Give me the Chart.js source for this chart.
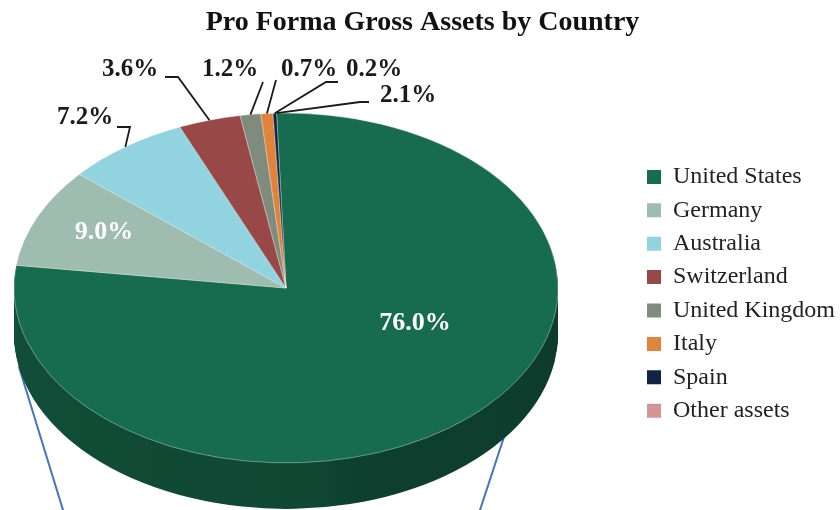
<!DOCTYPE html>
<html>
<head>
<meta charset="utf-8">
<script src="https://cdn.jsdelivr.net/npm/chart.js@4.4.1/dist/chart.umd.min.js"></script>
<style>
  html, body { margin: 0; padding: 0; background: #fff; }
  #wrap { width: 840px; height: 510px; }
</style>
</head>
<body>
<div id="wrap"><canvas id="assetsChart" width="840" height="510"></canvas></div>
<script>
// Pro Forma Gross Assets by Country

const countries = ['United States', 'Germany', 'Australia', 'Switzerland', 'United Kingdom', 'Italy', 'Spain', 'Other assets'];
const shares = [76.0, 9.0, 7.2, 3.6, 1.2, 0.7, 0.2, 2.1];
const sliceColors = ['#176b4e', '#9fbcb0', '#91d3df', '#984847', '#7f8b7c', '#e0843b', '#0f2442', '#d49494'];
// "Other assets" is split out of the main pie (it goes to the breakdown below the frame)
const splitOut = [7];

// picture layout
const PIE_CX = 286, PIE_CY = 288, PIE_R = 272, TILT = 0.643, DEPTH = 46;
const SERIF = "'Liberation Serif', 'Times New Roman', serif";

// where the percentage labels sit, and the elbows of their leader lines
const labelSpots = [
    { x: 415, y: 323, inside: true },
    { x: 104, y: 232, inside: true },
    { x: 85, y: 118, elbow: [[117, 127], [130, 127]] },
    { x: 130, y: 70, elbow: [[165, 77], [178, 77]] },
    { x: 230, y: 70, elbow: [[263, 82]] },
    { x: 309, y: 70, elbow: [[276, 80]] },
    { x: 374, y: 70, elbow: [[338, 82], [326, 82]] },
    { x: 408, y: 96, elbow: [[369, 102], [360, 102]] }
];

function shade(hex, f) {
    const n = parseInt(hex.slice(1), 16);
    const r = Math.round(((n >> 16) & 255) * f);
    const g = Math.round(((n >> 8) & 255) * f);
    const b = Math.round((n & 255) * f);
    return 'rgb(' + r + ',' + g + ',' + b + ')';
}

function toScreen(angle, radius, drop) {
    return {
        x: PIE_CX + Math.cos(angle) * radius,
        y: PIE_CY + (drop || 0) + Math.sin(angle) * radius * TILT
    };
}

function drawConnectors(ctx, radius) {
    // two connector lines running off the bottom edge; the pie hides their upper ends
    const lines = [[167, 63], [37, 480]];
    ctx.save();
    ctx.strokeStyle = '#4472c4';
    ctx.lineWidth = 2;
    lines.forEach(([deg, endX]) => {
        const p = toScreen(deg * Math.PI / 180, radius, DEPTH);
        const dx = endX - p.x, dy = 510 - p.y;
        ctx.beginPath();
        ctx.moveTo(p.x - dx * 0.05, p.y - dy * 0.05);
        ctx.lineTo(endX + dx * 0.1, 510 + dy * 0.1);
        ctx.stroke();
    });
    ctx.restore();
}

const tiltPlugin = {
    id: 'tilt',
    beforeDatasetsDraw(chart) {
        const ctx = chart.ctx;
        const arcs = chart.getDatasetMeta(0).data;
        const radius = arcs[0].outerRadius;
        drawConnectors(ctx, radius);

        // side wall of the pie
        for (let d = DEPTH; d > 0; d--) {
            arcs.forEach((arc, i) => {
                if (arc.endAngle - arc.startAngle <= 0) return;
                ctx.save();
                ctx.translate(PIE_CX, PIE_CY + d);
                ctx.scale(1, TILT);
                const grad = ctx.createLinearGradient(-radius, 0, radius, 0);
                grad.addColorStop(0, shade(sliceColors[i], 0.72));
                grad.addColorStop(0.55, shade(sliceColors[i], 0.66));
                grad.addColorStop(0.62, shade(sliceColors[i], 0.6));
                grad.addColorStop(1, shade(sliceColors[i], 0.56));
                ctx.beginPath();
                ctx.moveTo(0, 0);
                ctx.arc(0, 0, radius, arc.startAngle, arc.endAngle);
                ctx.closePath();
                ctx.fillStyle = grad;
                ctx.fill();
                ctx.restore();
            });
        }

        // top face: the library draws its arcs through this squash
        ctx.save();
        ctx.translate(PIE_CX, PIE_CY);
        ctx.scale(1, TILT);
        ctx.translate(-arcs[0].x, -arcs[0].y);
    },
    afterDatasetsDraw(chart) {
        const ctx = chart.ctx;
        ctx.restore();

        const arcs = chart.getDatasetMeta(0).data;
        ctx.save();
        ctx.textAlign = 'center';
        ctx.textBaseline = 'middle';
        arcs.forEach((arc, i) => {
            const spot = labelSpots[i];
            const text = shares[i].toFixed(1) + '%';
            if (spot.inside) {
                ctx.fillStyle = '#ffffff';
                ctx.font = 'bold 26px ' + SERIF;
            } else {
                const mid = (arc.startAngle + arc.endAngle) / 2;
                const edge = toScreen(mid, arc.outerRadius);
                ctx.strokeStyle = '#1a1a1a';
                ctx.lineWidth = 1.8;
                ctx.beginPath();
                spot.elbow.forEach(([x, y], k) => (k ? ctx.lineTo(x, y) : ctx.moveTo(x, y)));
                ctx.lineTo(edge.x, edge.y);
                ctx.stroke();
                ctx.fillStyle = '#1a1a1a';
                ctx.font = 'bold 25px ' + SERIF;
            }
            ctx.fillText(text, spot.x, spot.y);
        });
        ctx.restore();
    }
};

const chart = new Chart(document.getElementById('assetsChart'), {
    type: 'pie',
    data: {
        labels: countries,
        datasets: [{
            data: shares,
            backgroundColor: sliceColors,
            borderColor: 'rgba(255,255,255,0.45)',
            borderWidth: 1,
            clip: false
        }]
    },
    options: {
        responsive: false,
        animation: false,
        radius: PIE_R,
        rotation: -2,
        layout: { padding: { right: -5 } },
        plugins: {
            title: {
                display: true,
                text: 'Pro Forma Gross Assets by Country',
                color: '#111',
                font: { family: SERIF, size: 28, weight: 'bold' },
                padding: { top: 6, bottom: 38 }
            },
            legend: {
                position: 'right',
                fullSize: false,
                labels: {
                    color: '#222',
                    font: { family: SERIF, size: 24 },
                    boxWidth: 14,
                    boxHeight: 14,
                    padding: 9.4,
                    generateLabels(c) {
                        const items = Chart.overrides.pie.plugins.legend.labels.generateLabels(c);
                        items.forEach(it => {
                            it.hidden = false;
                            it.lineWidth = 0;
                            it.strokeStyle = 'rgba(0,0,0,0)';
                        });
                        return items;
                    }
                },
                onClick: null
            },
            tooltip: { enabled: false }
        }
    },
    plugins: [tiltPlugin]
});

splitOut.forEach(i => chart.toggleDataVisibility(i));
chart.update();
</script>
</body>
</html>
